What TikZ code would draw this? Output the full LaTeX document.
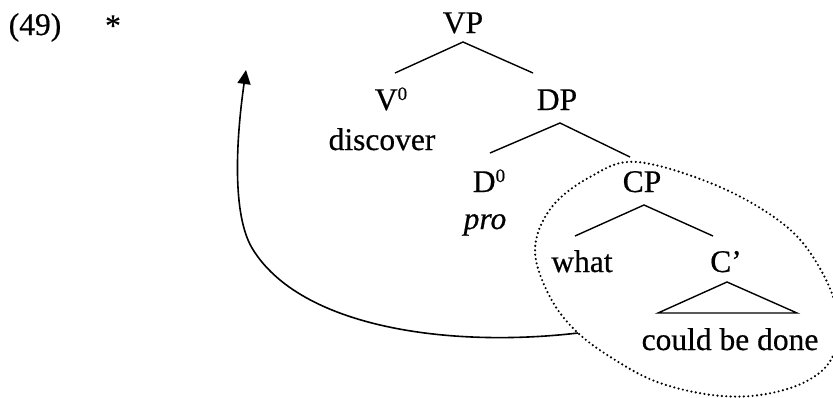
\documentclass[tikz,border=0pt]{standalone}
\usepackage{fontspec}
\setmainfont{Liberation Serif}[FakeBold=0.5]
\usetikzlibrary{arrows.meta}

% bar-level superscript, raised to the top of the capital
\newcommand{\barlevel}[1]{\raisebox{10pt}{\fontsize{19}{19}\selectfont #1}}

\tikzset{
  lbl/.style={anchor=base, inner sep=0pt, font=\fontsize{31.5}{36}\selectfont},
  branch/.style={line width=1.4pt},
  movearrow/.style={line width=1.6pt, -{Triangle[length=14pt,width=13pt]}},
  island/.style={line width=2.4pt, line cap=round, dash pattern=on 0pt off 4.4pt}
}

\begin{document}
\begin{tikzpicture}[x=1pt,y=-1pt]
\useasboundingbox (0,0) rectangle (833,397);

% example number and judgement
\node[lbl] (ex)   at (35,35)  {(49)};
\node[lbl] (star) at (113,36) {*};

% tree labels
\node[lbl] (VP)   at (463,33)  {VP};
\node[lbl] (V0)   at (391,110) {V\barlevel{0}};
\node[lbl] (disc) at (382,150) {discover};
\node[lbl] (DP)   at (557,110) {DP};
\node[lbl] (D0)   at (489,192) {D\barlevel{0}};
\node[lbl] (pro)  at (485,229) {\itshape pro};
\node[lbl] (CP)   at (642,192) {CP};
\node[lbl] (what) at (582,272) {what};
\node[lbl] (Cbar) at (726,272) {C’};
\node[lbl] (done) at (730,350) {could be done};

% branch end points
\coordinate (vp-a)  at (463,42);
\coordinate (vp-l)  at (395,73);
\coordinate (vp-r)  at (533,73);
\coordinate (dp-a)  at (560,123);
\coordinate (dp-l)  at (490,153);
\coordinate (dp-r)  at (630,157);
\coordinate (cp-a)  at (644,205);
\coordinate (cp-l)  at (575,236);
\coordinate (cp-r)  at (713,236);
\coordinate (cb-a)  at (727,282);
\coordinate (cb-l)  at (658,313);
\coordinate (cb-r)  at (797,313);

\draw[branch] (vp-l) -- (vp-a) -- (vp-r);
\draw[branch] (dp-l) -- (dp-a) -- (dp-r);
\draw[branch] (cp-l) -- (cp-a) -- (cp-r);
\draw[branch] (cb-a) -- (cb-l) -- (cb-r) -- cycle;

% dotted island round the CP
\draw[island] plot[smooth cycle, tension=0.6] coordinates {
  (637,162) (720,187) (787,227) (822,272) (838,318) (832,358)
  (805,382) (760,395) (712,395) (660,383) (620,363) (578,333)
  (550,297) (535,250) (551,208) (590,177)};

% movement arrow
\coordinate (src) at (578,333);
\coordinate (bend) at (252,248);
\coordinate (tgt) at (246,70);
\draw[movearrow] (src) .. controls (450,348) and (300,328) .. (bend)
                       .. controls (232,214) and (236,140) .. (tgt);
\end{tikzpicture}
\end{document}
